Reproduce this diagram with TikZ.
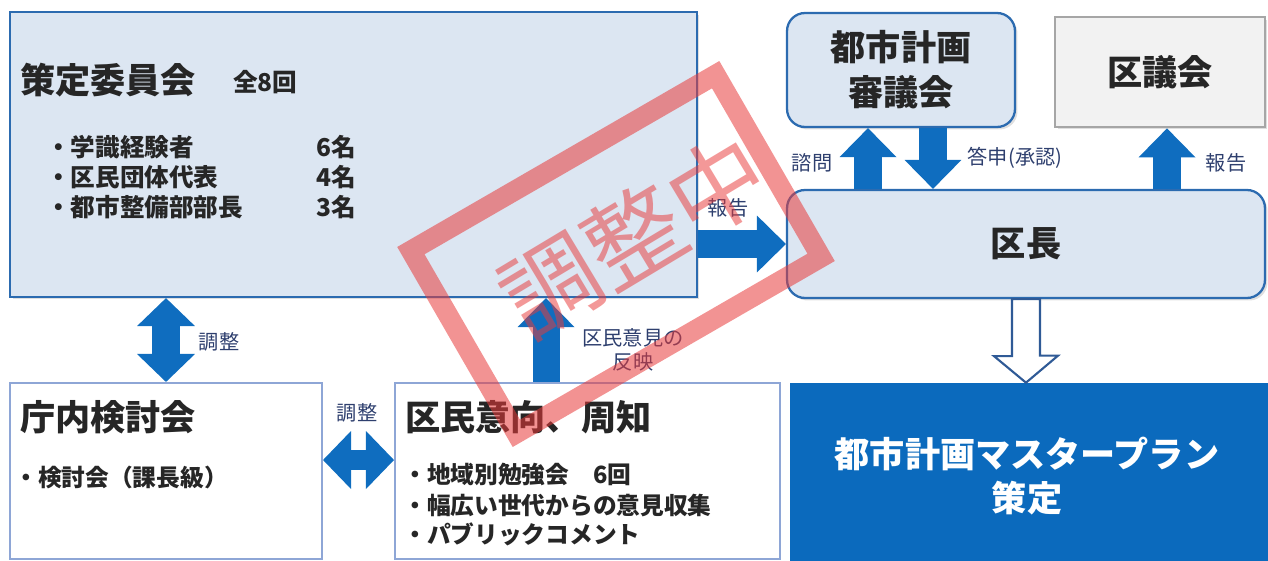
\documentclass[tikz,border=0pt]{standalone}
\usepackage{fontspec}
\setmainfont{Noto Sans CJK JP}
\usetikzlibrary{arrows.meta,calc,shadows}
\definecolor{paleblue}{HTML}{DCE6F2}
\definecolor{frameblue}{HTML}{2C6BB0}
\definecolor{palegray}{HTML}{F2F2F2}
\definecolor{framegray}{HTML}{A6A6A6}
\definecolor{framelight}{HTML}{8EA6D6}
\definecolor{arrowblue}{HTML}{0F6DBF}
\definecolor{planblue}{HTML}{0B6ABD}
\definecolor{hollowline}{HTML}{2F5A96}
\definecolor{ink}{HTML}{262626}
\definecolor{labelblue}{HTML}{2E3F6E}
\definecolor{stampred}{HTML}{E83A3A}

\begin{document}
\begin{tikzpicture}[x=0.02cm,y=-0.02cm,font=\bfseries\fontsize{14}{17}\selectfont,text=ink,
 boxshade/.style={drop shadow={opacity=0.25,shadow xshift=0.05cm,shadow yshift=-0.05cm}},
 panel/.style={draw=frameblue,line width=1.3pt,fill=paleblue,inner sep=0pt,boxshade},
 roundpanel/.style={panel,rounded corners=0.36cm},
 greypanel/.style={draw=framegray,line width=1.6pt,fill=palegray,inner sep=0pt,boxshade},
 openpanel/.style={draw=framelight,line width=1.2pt,fill=white,inner sep=0pt},
 head/.style={font=\bfseries\fontsize{20}{25.5}\selectfont,inner sep=0pt,align=center},
 item/.style={font=\bfseries\fontsize{14}{17}\selectfont,inner sep=0pt,anchor=west},
 lbl/.style={font=\mdseries\fontsize{11.5}{14}\selectfont,text=labelblue,inner sep=0pt,align=center},
 blockarr/.style={draw=arrowblue,line width=0.56cm,-{Triangle[width=1.14cm,length=0.58cm,line width=0pt]}},
 twinarr/.style={draw=arrowblue,line width=0.58cm,{Triangle[width=1.16cm,length=0.56cm,line width=0pt]}-{Triangle[width=1.16cm,length=0.56cm,line width=0pt]}}]
\useasboundingbox (0,0) rectangle (1268,561);
\clip (0,0) rectangle (1268,561);
\node[panel,minimum width=13.74cm,minimum height=5.7cm] (board) at (353.5,154.5) {};
\node[roundpanel,head,minimum width=4.56cm,minimum height=2.28cm] (council) at (901,70) {都市計画\\審議会};
\node[greypanel,head,minimum width=4.2cm,minimum height=2.2cm] (assembly) at (1160,72) {区議会};
\node[roundpanel,head,minimum width=9.56cm,minimum height=2.16cm] (boss) at (1026,244) {区長};
\node[openpanel,minimum width=6.24cm,minimum height=3.52cm] (internal) at (166,471) {};
\node[openpanel,minimum width=7.7cm,minimum height=3.52cm] (resident) at (587.5,471) {};
\node[draw=planblue,fill=planblue,inner sep=0pt,minimum width=9.54cm,minimum height=3.94cm] (plan) at (1028.5,481.5) {};
\node[head,text=white] (plantitle) at (1027,476) {都市計画マスタープラン\\策定};
\draw[blockarr] (board.east |- boss.west) -- (boss.west);
\draw[blockarr] ([xshift=-0.66cm]council.south |- boss.north) -- ([xshift=-0.66cm]council.south);
\draw[blockarr] ([xshift=0.64cm]council.south) -- ([xshift=0.64cm]council.south |- boss.north);
\draw[blockarr] ([xshift=0.14cm]assembly.south |- boss.north) -- ([xshift=0.14cm]assembly.south);
\draw[twinarr] (internal.north) -- (internal.north |- board.south);
\draw[twinarr,line width=0.4cm] ([yshift=0.22cm]internal.east) -- ([yshift=0.22cm]internal.east -| resident.west);
\draw[blockarr,line width=0.54cm] ([xshift=-0.83cm]resident.north) -- ([xshift=-0.83cm]resident.north |- board.south);
\draw[draw=hollowline,line width=1.2pt,fill=white] ([xshift=-0.28cm]boss.south) -- ++(0,57) -- ++(-18,0) -- (boss.south |- plan.north) -- ++(32,-27) -- ++(-18,0) -- ([xshift=0.28cm]boss.south) -- cycle;
\node[head,anchor=west] (boardtitle) at (20,80) {策定委員会};
\node[item] (boardcount) at (233,82) {全8回};
\foreach \who/\num [count=\i] in {学識経験者/6名,区民団体代表/4名,都市整備部部長/3名}{
 \node[item] (member\i) at (46,117+30*\i) {・\who};
 \node[item] (seats\i) at (316,117+30*\i) {\num};}
\node[head,anchor=west] (internaltitle) at (20,417) {庁内検討会};
\node[item,font=\bfseries\fontsize{13.5}{16}\selectfont] (internalitem) at (14,477) {・検討会（課長級）};
\node[head,anchor=west] (residenttitle) at (405,417) {区民意向、周知};
\foreach \txt/\yy [count=\i] in {地域別勉強会　6回/475,幅広い世代からの意見収集/506,パブリックコメント/534}{
 \node[item,font=\bfseries\fontsize{13.5}{16}\selectfont] (residentitem\i) at (403,\yy) {・\txt};}
\node[lbl] (reportlbl) at (728,208) {報告};
\node[lbl] (consultlbl) at (812,163) {諮問};
\node[lbl] (answerlbl) at (1015,158) {答申(承認)};
\node[lbl] (reportlbl2) at (1226,163) {報告};
\node[lbl] (adjustlbl) at (219,342) {調整};
\node[lbl] (adjustlbl2) at (357,413) {調整};
\node[lbl] (opinionlbl) at (633,350) {区民意見の\\反映};
\node[draw=stampred,draw opacity=0.55,line width=0.4cm,minimum width=7.04cm,minimum height=4.22cm,rotate=30] (stamp) at (616,254) {};
\node[text=stampred,text opacity=0.52,font=\mdseries\fontsize{55}{60}\selectfont,rotate=31,inner sep=0pt] (stamptext) at (634,236) {調整中};
\end{tikzpicture}
\end{document}
